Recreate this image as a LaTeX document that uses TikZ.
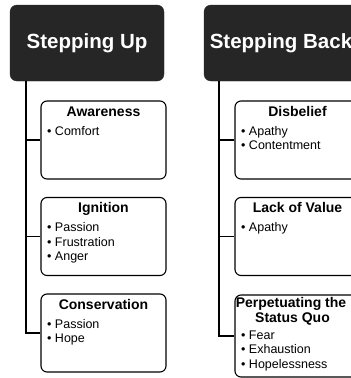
\documentclass[tikz,border=0pt]{standalone}
\usepackage{fontspec}
\setmainfont{Liberation Sans}
\usetikzlibrary{calc}
\definecolor{hdr}{RGB}{38,38,38}
\begin{document}
\begin{tikzpicture}[x=1pt,y=-1pt,
  header/.style={draw=hdr, fill=hdr, rounded corners=7pt, minimum width=154pt,
    minimum height=76pt, inner sep=0pt, text=white,
    font=\fontsize{20.5}{24}\selectfont\bfseries},
  stage/.style={draw=black, line width=1.1pt, rounded corners=6pt,
    minimum width=125pt, minimum height=78pt, inner sep=0pt},
  ttl/.style={anchor=base, inner sep=0pt, font=\fontsize{14}{16}\selectfont\bfseries},
  itm/.style={anchor=base west, inner sep=0pt, font=\fontsize{12.5}{14.5}\selectfont},
  link/.style={draw=black, line width=1.1pt}]
\useasboundingbox (0,0) rectangle (351,378);
\clip (0,0) rectangle (351,378);
\fill[white] (0,0) rectangle (351,378);

% column headers
\node[header] (up) at (87,43) {Stepping Up};
\node[header] (back) at (281,43) {Stepping Back};

% stage boxes
\node[stage] (aw) at (103.5,140) {};
\node[stage] (ig) at (103.5,236.5) {};
\node[stage] (co) at (103.5,333) {};
\node[stage] (di) at (297.5,140) {};
\node[stage] (lv) at (297.5,236.5) {};
\node[stage, minimum height=82pt] (ps) at (297.5,336) {};

% titles
\node[ttl] (awT) at ($(aw.north)+(0,16)$) {Awareness};
\node[ttl] (igT) at ($(ig.north)+(0,16)$) {Ignition};
\node[ttl] (coT) at ($(co.north)+(0,16)$) {Conservation};
\node[ttl] (diT) at ($(di.north)+(0,16)$) {Disbelief};
\node[ttl] (lvT) at ($(lv.north)+(0,16)$) {Lack of Value};
\node[ttl] (psT1) at (291,307.5) {Perpetuating the};
\node[ttl] (psT2) at (292.5,322.5) {Status Quo};

% bullet items
\foreach \t [count=\i from 0] in {Comfort}
  \node[itm] at ($(aw.north west)+(6.5,35+14.5*\i)$) {• \t};
\foreach \t [count=\i from 0] in {Passion,Frustration,Anger}
  \node[itm] at ($(ig.north west)+(6.5,35+14.5*\i)$) {• \t};
\foreach \t [count=\i from 0] in {Passion,Hope}
  \node[itm] at ($(co.north west)+(6.5,35+14.5*\i)$) {• \t};
\foreach \t [count=\i from 0] in {Apathy,Contentment}
  \node[itm] at ($(di.north west)+(6.5,35+14.5*\i)$) {• \t};
\foreach \t [count=\i from 0] in {Apathy}
  \node[itm] at ($(lv.north west)+(6.5,35+14.5*\i)$) {• \t};
\foreach \t [count=\i from 0] in {Fear,Exhaustion,Hopelessness}
  \node[itm] at ($(ps.north west)+(6.5,45+14.5*\i)$) {• \t};

% connectors
\coordinate (spL) at ($(up.south)+(-61,0)$);
\coordinate (spR) at ($(back.south)+(-62,0)$);
\draw[link] (spL) |- (co.west);
\draw[link] (spL |- aw.west) -- (aw.west);
\draw[link] (spL |- ig.west) -- (ig.west);
\draw[link] (spR) |- (ps.west);
\draw[link] (spR |- di.west) -- (di.west);
\draw[link] (spR |- lv.west) -- (lv.west);
\end{tikzpicture}
\end{document}
